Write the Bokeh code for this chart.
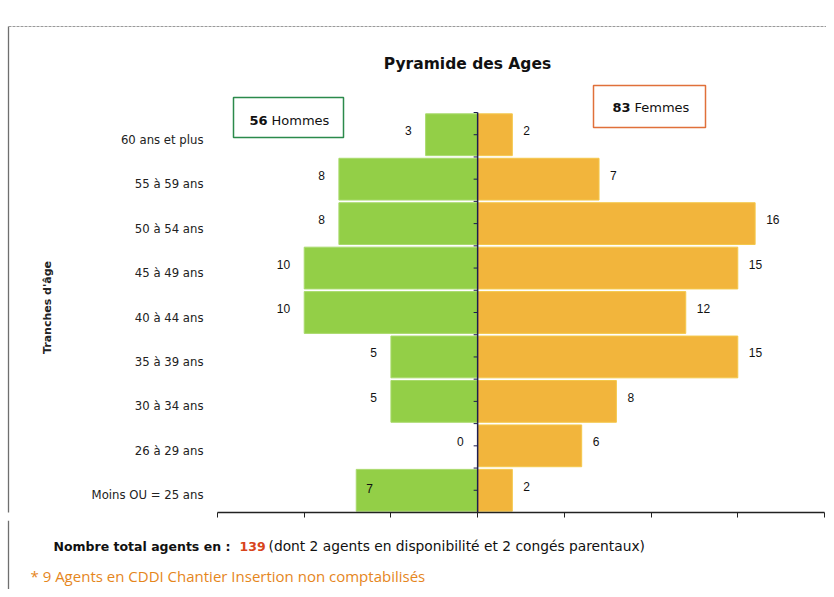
from bokeh.plotting import figure
from bokeh.models import Range1d, LinearAxis, FixedTicker, ColumnDataSource
from bokeh.layouts import column
from bokeh.core.properties import value
from bokeh.embed import file_html
from bokeh.resources import INLINE
import math

# ---- data ----
categories = ["Moins OU = 25 ans", "26 à 29 ans", "30 à 34 ans", "35 à 39 ans",
              "40 à 44 ans", "45 à 49 ans", "50 à 54 ans", "55 à 59 ans", "60 ans et plus"]
hommes = [7, 0, 5, 5, 10, 10, 8, 8, 3]
femmes = [2, 6, 8, 15, 12, 15, 16, 7, 2]
axis_ticks = [-15, -10, -5, 0, 5, 10, 15, 20]
title_text = "Pyramide des Ages"
axis_label = "Tranches d'âge"
total_agents = 139
note_bold = "Nombre total agents  en  :"
note_rest = "(dont 2 agents en disponibilité et 2 congés parentaux)"
footnote = "* 9 Agents en CDDI Chantier Insertion non comptabilisés"

# ---- page-pixel helpers for annotation placement ----
K = 607 / 35.0          # px per unit on x
H = 400 / 9.0           # px per category
def px(xp):
    return -15 + (xp - 217) / K
def py(yp):
    return (512 - yp) / H

FONT = "DejaVu Sans"
NUMFONT = "Liberation Sans"
GREEN = "#93cf47"
ORANGE = "#f2b53c"
W = 826
TOP_H = 520

n = len(categories)
ys = [i + 0.5 for i in range(n)]

p = figure(width=W, height=TOP_H,
           x_range=Range1d(px(0), px(W)), y_range=Range1d(0, py(20)),
           x_axis_location=None, y_axis_location=None,
           output_backend="svg", toolbar_location=None,
           min_border_left=0, min_border_right=0, min_border_top=20,
           min_border_bottom=TOP_H - 512)
p.outline_line_color = None
p.grid.visible = False
p.background_fill_color = "white"
p.border_fill_color = "white"

src = ColumnDataSource(dict(y=ys, cat=categories,
                            h_left=[-v for v in hommes], h_right=[0] * n,
                            f_left=[0] * n, f_right=femmes,
                            flab=[str(v) for v in femmes]))

# bars
p.hbar(y="y", left="h_left", right="h_right", height=0.94, source=src,
       fill_color=GREEN, line_color="#a9da6c", line_width=1)
p.hbar(y="y", left="f_left", right="f_right", height=0.94, source=src,
       fill_color=ORANGE, line_color="#f4c84c", line_width=1)

# value labels
# men: outside the bar end, except the bottom class whose label sits inside the bar
hx_out = [-v for i, v in enumerate(hommes) if i != 0]
hy_out = [ys[i] for i in range(n) if i != 0]
ht_out = [str(v) for i, v in enumerate(hommes) if i != 0]
p.text(x=hx_out, y=hy_out, text=ht_out, text_align="right", text_baseline="middle",
       x_offset=-14, y_offset=-4, text_font=value(NUMFONT), text_font_size="12px",
       text_color="#111111")
p.text(x=[-hommes[0]], y=[ys[0]], text=[str(hommes[0])], text_align="left",
       text_baseline="middle", x_offset=10, y_offset=-2, text_font=value(NUMFONT),
       text_font_size="12px", text_color="#111111")
p.text(x="f_right", y="y", text="flab", source=src, text_align="left",
       text_baseline="middle", x_offset=11, y_offset=-4, text_font=value(NUMFONT),
       text_font_size="12px", text_color="#111111")

# category labels
p.text(x=px(203), y="y", text="cat", source=src, text_align="right",
       text_baseline="middle", y_offset=5, text_font=value(FONT), text_font_size="11.7px",
       text_color="#222222")

# central axis line with small ticks
p.segment(x0=[0], y0=[0], x1=[0], y1=[n], line_color="#1d1d4f", line_width=1.5)
tick_y = [k * 0.5 for k in range(2 * n + 1)]
p.segment(x0=[0] * len(tick_y), y0=tick_y, x1=[-4 / K] * len(tick_y), y1=tick_y,
          line_color="#1d1d4f", line_width=1)

# bottom value axis (no labels)
xaxis = LinearAxis(bounds=(axis_ticks[0], axis_ticks[-1]), ticker=FixedTicker(ticks=axis_ticks),
                   major_label_overrides={t: "" for t in axis_ticks},
                   major_label_text_font_size="1px", major_label_standoff=0,
                   major_tick_in=0, major_tick_out=5,
                   minor_tick_out=0, minor_tick_in=0, axis_line_width=1.5,
                   axis_line_color="#222222", major_tick_line_color="#222222")
p.add_layout(xaxis, "below")

# title
p.text(x=[px(467)], y=[py(63)], text=[title_text], text_align="center", text_baseline="middle",
       text_font=value(FONT), text_font_size="15.5px", text_font_style="bold", text_color="#111111")

# y axis label
p.text(x=[px(47)], y=[py(307)], text=[axis_label], angle=math.pi / 2, text_align="center",
       text_baseline="middle", text_font=value(FONT), text_font_size="11px",
       text_font_style="bold", text_color="#222222")

# boxes with totals
p.quad(left=[px(233)], right=[px(343)], top=[py(97)], bottom=[py(137)],
       fill_color="white", line_color="#2b8a4b", line_width=1.5)
p.quad(left=[px(593)], right=[px(705)], top=[py(85)], bottom=[py(127)],
       fill_color="white", line_color="#e0703a", line_width=1.5)
p.text(x=[px(267)], y=[py(120)], text=[str(sum(hommes))], text_align="right", text_baseline="middle",
       text_font=value(FONT), text_font_size="13px", text_font_style="bold", text_color="#111111")
p.text(x=[px(271)], y=[py(120)], text=["Hommes"], text_align="left", text_baseline="middle",
       text_font=value(FONT), text_font_size="13px", text_color="#111111")
p.text(x=[px(630)], y=[py(107)], text=[str(sum(femmes))], text_align="right", text_baseline="middle",
       text_font=value(FONT), text_font_size="13px", text_font_style="bold", text_color="#111111")
p.text(x=[px(634)], y=[py(107)], text=["Femmes"], text_align="left", text_baseline="middle",
       text_font=value(FONT), text_font_size="13px", text_color="#111111")

# scan frame lines
p.segment(x0=[px(8)], y0=[py(26)], x1=[px(8)], y1=[py(TOP_H)], line_color="#6f6f6f", line_width=1.3)
p.segment(x0=[px(8)], y0=[py(26)], x1=[px(W)], y1=[py(26)], line_color="#9a9a9a",
          line_width=1, line_dash="3 1")

# ---- bottom notes: a second strip in page-pixel coordinates ----
BOT_H = 589 - TOP_H
q = figure(width=W, height=BOT_H, x_range=Range1d(0, W), y_range=Range1d(589, TOP_H),
           x_axis_location=None, y_axis_location=None, output_backend="svg",
           toolbar_location=None, min_border=0)
q.outline_line_color = None
q.grid.visible = False
q.background_fill_color = "white"
q.border_fill_color = "white"
q.text(x=[53], y=[546], text=[note_bold], text_baseline="middle", text_font=value(FONT),
       text_font_size="12.5px", text_font_style="bold", text_color="#111111")
q.text(x=[239], y=[546], text=[str(total_agents)], text_baseline="middle", text_font=value(FONT),
       text_font_size="12.5px", text_font_style="bold", text_color="#d8441c")
q.text(x=[268], y=[545], text=[note_rest], text_baseline="middle", text_font=value(FONT),
       text_font_size="13.8px", text_color="#111111")
q.text(x=[30], y=[575], text=[footnote], text_baseline="middle", text_font=value("Open Sans"),
       text_font_size="15px", text_color="#e5861c")
q.segment(x0=[8], y0=[TOP_H], x1=[8], y1=[589], line_color="#6f6f6f", line_width=1.3)

layout = column(p, q, spacing=0)
open("out.html", "w").write(file_html(layout, INLINE))
